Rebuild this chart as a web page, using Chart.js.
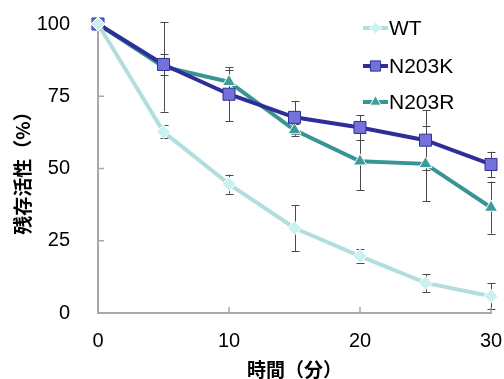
<!DOCTYPE html>
<html>
<head>
<meta charset="utf-8">
<script src="https://cdn.jsdelivr.net/npm/chart.js@4.4.1/dist/chart.umd.min.js"></script>
<style>
html,body{margin:0;padding:0;background:#fff;}
#wrap{width:504px;height:379px;position:relative;}
</style>
</head>
<body>
<div id="wrap"><canvas id="c" width="504" height="379"></canvas></div>
<script>
const times = [0, 5, 10, 15, 20, 25, 30];
const wtValues = [100, 62.7, 44.6, 29.4, 19.7, 10.4, 5.8];
const wtErrors = [0, 2.2, 3.3, 8.0, 2.5, 3.1, 4.5];
const n203kValues = [100, 86.0, 75.7, 67.7, 64.2, 59.8, 51.4];
const n203kErrors = [0, 3.5, 9.3, 5.7, 4.3, 10.4, 4.4];
const n203rValues = [100, 85.2, 80.0, 63.3, 52.5, 51.6, 36.5];
const n203rErrors = [0, 15.5, 4.0, 2.0, 10.0, 13.0, 9.0];
const yTicks = [0, 25, 50, 75, 100];
const xTicks = [0, 10, 20, 30];
const seriesNames = ['WT', 'N203K', 'N203R'];

const pts = (vals) => times.map((t, i) => ({x: t, y: vals[i]}));

const styles = [
  {line: '#b3dede', fill: '#c9f1f1', border: '#ffffff', shape: 'rectRot', r: 7},
  {line: '#2e2e98', fill: '#7272d8', border: '#30309a', shape: 'rect', r: 8.5},
  {line: '#3a9494', fill: '#3d9d9d', border: '#ffffff', shape: 'triangle', r: 7.5}
];
const errs = [wtErrors, n203kErrors, n203rErrors];

const errorBarPlugin = {
  id: 'errbars',
  beforeDatasetsDraw(chart) {
    const ctx = chart.ctx, xs = chart.scales.x, ys = chart.scales.y;
    ctx.save();
    ctx.strokeStyle = '#4a4a4a';
    ctx.lineWidth = 1;
    chart.data.datasets.forEach((ds, di) => {
      ds.data.forEach((p, i) => {
        const e = errs[di][i];
        if (!e) return;
        const x = Math.round(xs.getPixelForValue(p.x)) + 0.5;
        const y1 = ys.getPixelForValue(p.y + e), y2 = ys.getPixelForValue(p.y - e);
        ctx.beginPath();
        ctx.moveTo(x, y1); ctx.lineTo(x, y2);
        ctx.moveTo(x - 4, Math.round(y1) + 0.5); ctx.lineTo(x + 4, Math.round(y1) + 0.5);
        ctx.moveTo(x - 4, Math.round(y2) + 0.5); ctx.lineTo(x + 4, Math.round(y2) + 0.5);
        ctx.stroke();
      });
    });
    ctx.restore();
  }
};

const axisTickPlugin = {
  id: 'inticks',
  beforeDatasetsDraw(chart) {
    const ctx = chart.ctx, xs = chart.scales.x, ys = chart.scales.y, a = chart.chartArea;
    ctx.save();
    ctx.strokeStyle = '#a8a8a8';
    ctx.lineWidth = 1.5;
    ctx.beginPath();
    yTicks.forEach(v => {
      const y = ys.getPixelForValue(v);
      ctx.moveTo(a.left, y); ctx.lineTo(a.left + 6, y);
    });
    xTicks.forEach(v => {
      const x = xs.getPixelForValue(v);
      ctx.moveTo(x, a.bottom); ctx.lineTo(x, a.bottom - 6);
    });
    ctx.stroke();
    ctx.restore();
  }
};

const legendPlugin = {
  id: 'customLegend',
  afterDraw(chart) {
    const ctx = chart.ctx;
    const x0 = 363, x1 = 388, ys0 = [28, 66, 102];
    ctx.save();
    chart.data.datasets.forEach((ds, i) => {
      const y = ys0[i];
      const s = styles[i];
      ctx.strokeStyle = s.line;
      ctx.lineWidth = 4;
      ctx.beginPath(); ctx.moveTo(x0, y); ctx.lineTo(x1, y); ctx.stroke();
      ctx.fillStyle = s.fill; ctx.strokeStyle = s.border; ctx.lineWidth = 1;
      Chart.helpers.drawPoint(ctx, {pointStyle: s.shape, radius: s.r * 0.85, borderWidth: 1}, (x0 + x1) / 2, y);
      ctx.fillStyle = '#000';
      ctx.font = '21px "Liberation Sans", Arial, sans-serif';
      ctx.textBaseline = 'middle';
      ctx.textAlign = 'left';
      ctx.fillText(seriesNames[i], x1 + 1, y + 1);
    });
    ctx.restore();
  }
};

const datasets = [wtValues, n203kValues, n203rValues].map((vals, i) => ({
  label: seriesNames[i],
  data: pts(vals),
  borderColor: styles[i].line,
  borderWidth: 4,
  backgroundColor: styles[i].fill,
  pointBackgroundColor: styles[i].fill,
  pointBorderColor: styles[i].border,
  pointBorderWidth: 1,
  pointStyle: styles[i].shape,
  pointRadius: styles[i].r,
  pointHoverRadius: styles[i].r,
  tension: 0,
  clip: false
}));

new Chart(document.getElementById('c'), {
  type: 'line',
  data: {datasets},
  plugins: [errorBarPlugin, axisTickPlugin, legendPlugin],
  options: {
    responsive: false,
    animation: false,
    events: [],
    layout: {padding: {top: 24, right: 13, left: 0, bottom: 0}},
    plugins: {legend: {display: false}, tooltip: {enabled: false}},
    scales: {
      x: {
        type: 'linear', min: 0, max: 30,
        afterBuildTicks: (s) => { s.ticks = xTicks.map(v => ({value: v})); },
        afterFit: (s) => { s.height = 66; s.paddingLeft = 0; s.paddingRight = 0; },
        grid: {display: false, drawTicks: false},
        border: {display: true, color: '#a8a8a8', width: 2},
        ticks: {color: '#000', padding: 16, font: {family: '"Liberation Sans", Arial, sans-serif', size: 20}},
        title: {display: true, text: '時間（分）', color: '#000', padding: {top: 1, bottom: 0},
          font: {family: '"Noto Sans CJK JP", sans-serif', size: 19, weight: 'bold', lineHeight: 1}}
      },
      y: {
        type: 'linear', min: 0, max: 100,
        afterBuildTicks: (s) => { s.ticks = yTicks.map(v => ({value: v})); },
        afterFit: (s) => { s.width = 98; s.paddingTop = 0; s.paddingBottom = 0; },
        grid: {display: false, drawTicks: false},
        border: {display: true, color: '#a8a8a8', width: 2},
        ticks: {color: '#000', padding: 28, font: {family: '"Liberation Sans", Arial, sans-serif', size: 20}},
        title: {display: true, text: '残存活性（%）', color: '#000', padding: {top: 13, bottom: 0},
          font: {family: '"Noto Sans CJK JP", sans-serif', size: 19, weight: 'bold', lineHeight: 1}}
      }
    }
  }
});
</script>
</body>
</html>
